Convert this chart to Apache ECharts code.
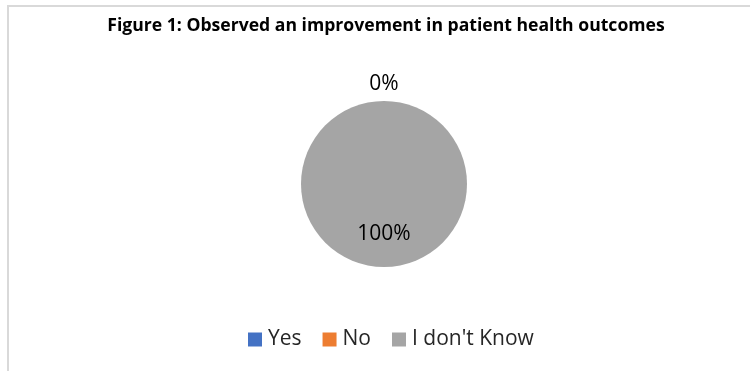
<!DOCTYPE html>
<html>
<head>
<meta charset="utf-8">
<script src="https://cdn.jsdelivr.net/npm/echarts@6/dist/echarts.min.js"></script>
<style>
  html, body { margin: 0; padding: 0; background: #ffffff; }
  #chart { width: 750px; height: 371px; }
</style>
</head>
<body>
<div id="chart"></div>
<script>
// Survey answers and their shares (percent)
const titleText = 'Figure 1: Observed an improvement in patient health outcomes';
const categories = ['Yes', 'No', "I don't Know"];
const shares = [0, 0, 100];
const sliceColors = ['#4472C4', '#ED7D31', '#A5A5A5'];

const chart = echarts.init(document.getElementById('chart'), null, { renderer: 'canvas' });

const pieData = categories.map((name, i) => {
  const item = { name: name, value: shares[i], itemStyle: { color: sliceColors[i] } };
  if (shares[i] === 0) {
    // zero slices sit at the top; only one label is drawn so they don't stack
    item.label = { show: i === 0, position: 'outside' };
  } else {
    item.label = { show: true, position: 'inside' };
  }
  return item;
});

chart.setOption({
  backgroundColor: '#ffffff',
  textStyle: { fontFamily: 'Open Sans' },
  title: {
    text: titleText,
    left: 381,
    top: 12,
    textAlign: 'center',
    textStyle: { fontFamily: 'Open Sans', fontWeight: 'bold', fontSize: 17.6, color: '#000000' }
  },
  legend: {
    data: categories,
    bottom: 16,
    left: 243,
    icon: 'rect',
    itemWidth: 14,
    itemHeight: 14,
    itemGap: 21,
    selectedMode: false,
    textStyle: { fontFamily: 'Open Sans', fontSize: 21, color: '#262626', padding: [0, 0, 0, 1] }
  },
  graphic: [{
    type: 'polyline',
    silent: true,
    shape: { points: [[8, 371], [8, 6], [750, 6]] },
    style: { stroke: '#d9d9d9', lineWidth: 2, fill: null }
  }],
  series: [{
    type: 'pie',
    center: [384, 184],
    radius: 83,
    startAngle: 90,
    clockwise: true,
    avoidLabelOverlap: false,
    animation: false,
    label: {
      formatter: '{d}%',
      fontFamily: 'Open Sans',
      fontSize: 21,
      color: '#000000'
    },
    labelLine: { show: false, length: 17, length2: 0 },
    labelLayout: function (p) {
      if (p.dataIndex === 2) return { dy: 6 };
      return { align: 'center', dx: 5 };
    },
    emphasis: { disabled: true },
    data: pieData
  }]
});
</script>
</body>
</html>
